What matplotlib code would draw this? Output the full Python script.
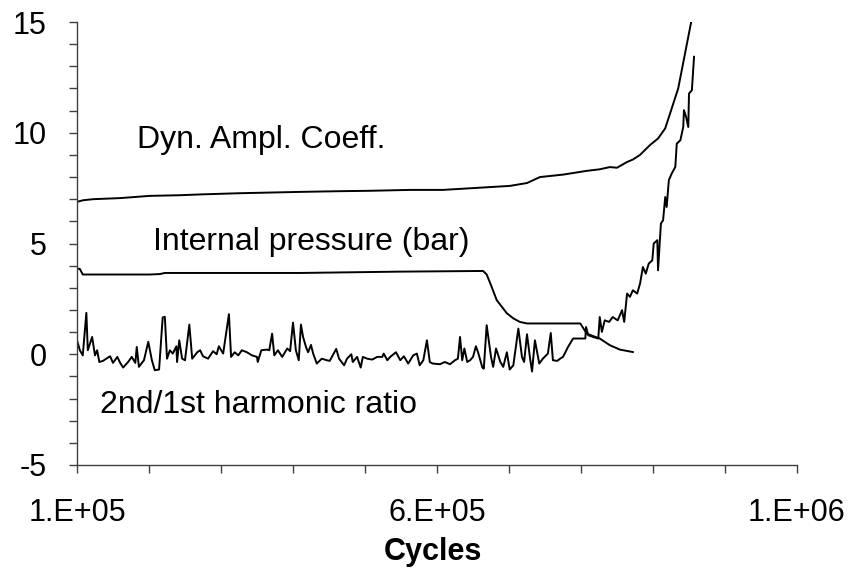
import matplotlib
matplotlib.use("Agg")
import matplotlib.pyplot as plt
from matplotlib.ticker import MultipleLocator, FixedLocator, FixedFormatter

plt.rcParams['font.family'] = ['Liberation Sans', 'DejaVu Sans']

# ---- data (cycles in thousands) ----
dyn_cycles_k = [100, 108, 122, 160, 201, 243, 275, 326, 368, 410, 461, 507, 535, 563,
                608, 660, 701, 725, 743, 775, 808, 826, 840, 850, 864, 872, 882, 896,
                907, 917, 924, 935, 944, 953]
dyn_values = [6.88, 6.95, 7.0, 7.05, 7.15, 7.18, 7.22, 7.27, 7.3, 7.33, 7.36, 7.38, 7.4, 7.42,
              7.42, 7.52, 7.6, 7.73, 8.0, 8.11, 8.28, 8.35, 8.45, 8.42, 8.68, 8.79, 9.0, 9.45,
              9.74, 10.2, 10.9, 12.0, 13.5, 15.0]

press_cycles_k = [100, 104, 108, 201, 215, 222, 410, 549, 664, 669, 674, 683, 697, 706,
                  715, 725, 799, 808, 826, 840, 854, 872]
press_values = [3.87, 3.85, 3.6, 3.6, 3.62, 3.67, 3.67, 3.73, 3.76, 3.6, 3.2, 2.44, 1.85, 1.62,
                1.46, 1.39, 1.39, 0.93, 0.71, 0.41, 0.21, 0.1]

harm_cycles_k = [100, 104, 108, 113, 115, 121, 125, 128, 131, 136, 146, 150, 156, 160, 164,
                 171, 176, 181, 183, 186, 193, 199, 204, 208, 214, 219, 222, 225, 229, 233,
                 238, 239, 242, 246, 250, 256, 260, 267, 271, 275, 282, 289, 294, 297, 303,
                 311, 314, 319, 324, 329, 336, 343, 350, 351, 356, 364, 367, 371, 374, 379,
                 385, 392, 396, 400, 404, 408, 411, 414, 418, 421, 425, 428, 433, 440, 447,
                 451, 460, 464, 471, 475, 481, 483, 489, 494, 497, 503, 510, 517, 524, 526,
                 531, 535, 543, 549, 554, 560, 567, 572, 576, 581, 586, 590, 594, 604, 611,
                 618, 625, 629, 632, 635, 638, 642, 646, 650, 654, 657, 663, 665, 669, 675,
                 678, 682, 688, 692, 697, 701, 706, 713, 718, 721, 725, 729, 732, 736, 742,
                 747, 754, 758, 761, 767, 771, 775, 782, 789, 806, 807, 810, 817, 824, 826,
                 829, 833, 839, 844, 851, 857, 860, 864, 868, 872, 878, 882, 886, 890, 894,
                 899, 901, 906, 907, 911, 914, 917, 919, 922, 926, 931, 933, 938, 942, 943,
                 946, 949, 950, 954, 956, 957]
harm_values = [0.63, 0.18, -0.05, 1.87, 0.18, 0.78, -0.05, 0.18, -0.35, -0.3, -0.09, -0.39,
               -0.12, -0.39, -0.6, -0.35, -0.12, -0.39, 0.33, -0.57, -0.27, 0.56, -0.27, -0.72,
               -0.69, 1.66, 1.69, -0.2, 0.18, 0.03, 0.36, -0.35, 0.63, -0.2, -0.27, 1.34, -0.2,
               0.09, 0.18, -0.09, -0.2, 0.14, 0.0, 0.36, 0.03, 1.81, -0.12, 0.09, -0.05, 0.18,
               0.09, -0.05, -0.12, -0.35, 0.18, 0.21, 0.18, 0.93, -0.05, 0.18, -0.12, 0.26,
               0.14, 1.43, 0.18, -0.27, 1.34, 0.78, 0.33, 0.09, 0.42, 0.03, -0.42, -0.2, -0.27,
               -0.3, 0.24, -0.2, -0.5, -0.2, 0.0, -0.35, -0.12, -0.6, -0.12, -0.2, -0.24, -0.12,
               -0.12, 0.03, -0.27, -0.12, 0.09, -0.27, -0.09, -0.42, -0.05, 0.03, -0.5, -0.27,
               0.63, -0.35, -0.42, -0.45, -0.35, -0.45, -0.27, -0.2, 0.78, -0.27, 0.26, -0.35,
               -0.27, -0.12, 0.36, 0.09, -0.6, -0.65, 1.31, -0.12, -0.57, 0.26, -0.35, -0.57,
               0.09, -0.69, -0.5, 1.16, -0.12, -0.35, 0.9, -0.12, -0.78, 0.63, -0.42, -0.2,
               0.03, 0.96, -0.27, -0.3, -0.2, -0.12, 0.33, 0.71, 0.71, 1.23, 0.86, 0.78, 0.71,
               1.68, 1.01, 1.53, 1.46, 1.68, 1.53, 1.99, 1.46, 2.74, 2.59, 2.89, 2.74, 3.19,
               3.94, 3.64, 4.09, 4.24, 5.0, 5.15, 3.79, 5.9, 6.05, 7.1, 6.65, 7.86, 8.16, 8.46,
               9.51, 9.66, 10.26, 11.02, 10.71, 10.26, 11.77, 11.92, 12.97, 13.43]

xtick_values = [1e5, 6e5, 1.1e6]
xtick_labels = ['1.E+05', '6.E+05', '1.E+06']
ytick_values = [-5, 0, 5, 10, 15]
ytick_labels = ['-5', '0', '5', '10', '15']

labels = ["Dyn. Ampl. Coeff.", "Internal pressure (bar)", "2nd/1st harmonic ratio"]
label_pos = [(183e3, 9.3), (206e3, 4.7), (132e3, -2.66)]

# ---- figure ----
fig = plt.figure(figsize=(8.5, 5.73), dpi=100)
ax = fig.add_axes([77/850, 108/573, 720/850, 443/573])

k = 1000.0
ax.plot([c*k for c in dyn_cycles_k], dyn_values, color='black', lw=1.4)
ax.plot([c*k for c in press_cycles_k], press_values, color='black', lw=1.4)
ax.plot([c*k for c in harm_cycles_k], harm_values, color='black', lw=1.4)

ax.set_xlim(1e5, 1.1e6)
ax.set_ylim(-5, 15)

for s in ['top', 'right']:
    ax.spines[s].set_visible(False)
for s in ['left', 'bottom']:
    ax.spines[s].set_color('#404040')
    ax.spines[s].set_linewidth(1.0)

ax.xaxis.set_major_locator(FixedLocator(xtick_values))
ax.xaxis.set_major_formatter(FixedFormatter(xtick_labels))
ax.xaxis.set_minor_locator(MultipleLocator(1e5))
ax.yaxis.set_major_locator(FixedLocator(ytick_values))
ax.yaxis.set_major_formatter(FixedFormatter(ytick_labels))
ax.yaxis.set_minor_locator(MultipleLocator(1))

ax.tick_params(axis='both', which='both', direction='out', length=6, width=1.0,
               color='#404040', labelsize=22)
ax.tick_params(axis='x', which='major', pad=18)
ax.tick_params(axis='y', which='major', pad=16)

for txt, (x, y) in zip(labels, label_pos):
    ax.text(x, y, txt, fontsize=23, ha='left', va='baseline', color='black')

fig.text(433/850, 1 - 552/573, "Cycles", fontsize=22, fontweight='bold',
         ha='center', va='center')

fig.savefig("out.png", dpi=100)
